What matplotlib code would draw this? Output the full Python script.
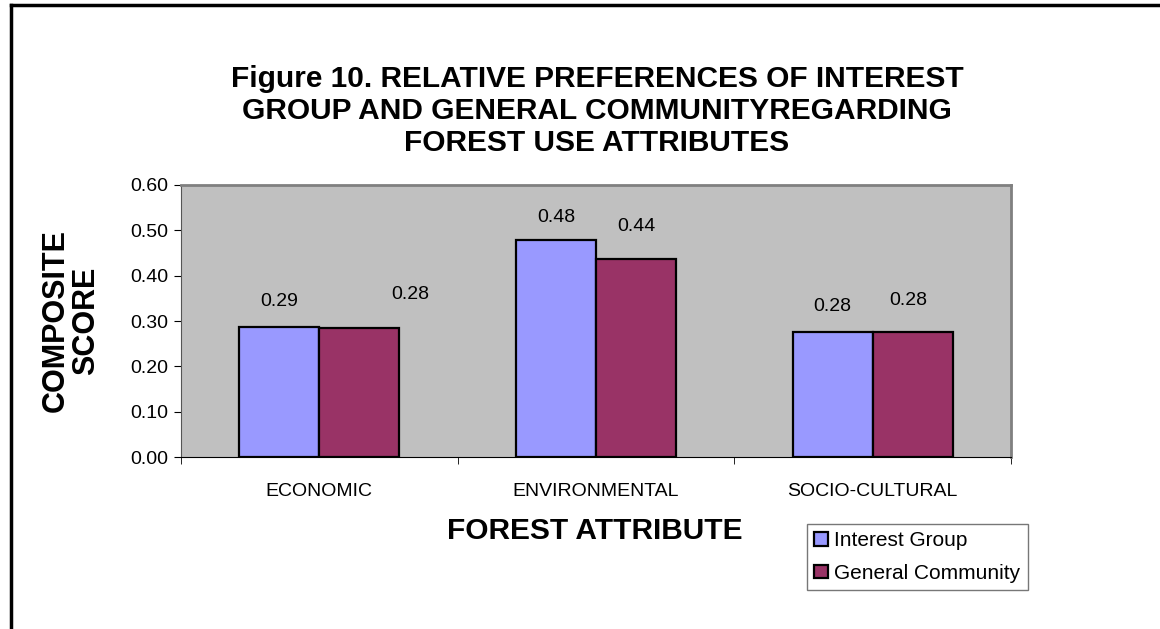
import numpy as np
import matplotlib.pyplot as plt
from matplotlib.lines import Line2D

plt.rcParams['font.family'] = ['Liberation Sans', 'DejaVu Sans']

categories = ['ECONOMIC', 'ENVIRONMENTAL', 'SOCIO-CULTURAL']
interest_group = [0.287, 0.479, 0.276]
general_community = [0.285, 0.437, 0.275]
yticks = [0.0, 0.1, 0.2, 0.3, 0.4, 0.5, 0.6]

# label offsets (points) from the top of each bar: (dx, dy)
ig_offsets = [(0, 18), (0, 16), (0, 18)]
gc_offsets = [(37, 24), (0, 23), (-3, 23)]

fig = plt.figure(figsize=(11.6, 6.29), dpi=100)
ax = fig.add_axes([181/1160, 1 - 457/629, 830/1160, 272/629])

x = np.arange(len(categories))
w = 0.289
b1 = ax.bar(x - w/2, interest_group, w, color='#9999FF', edgecolor='black', linewidth=1.6, label='Interest Group')
b2 = ax.bar(x + w/2, general_community, w, color='#993366', edgecolor='black', linewidth=1.6, label='General Community')

for rect, v, off in zip(b1, interest_group, ig_offsets):
    ax.annotate('%.2f' % v, (rect.get_x() + rect.get_width()/2, v), xytext=off,
                textcoords='offset points', ha='center', va='center', fontsize=14)
for rect, v, off in zip(b2, general_community, gc_offsets):
    ax.annotate('%.2f' % v, (rect.get_x() + rect.get_width()/2, v), xytext=off,
                textcoords='offset points', ha='center', va='center', fontsize=14)

ax.set_facecolor('#C0C0C0')
ax.set_xlim(-0.5, 2.5)
ax.set_ylim(0, 0.6)
ax.set_yticks(yticks)
ax.set_yticklabels(['%.2f' % t for t in yticks], fontsize=14)
ax.set_xticks(x)
ax.set_xticklabels(categories, fontsize=14)
ax.tick_params(axis='x', length=0, pad=19)
ax.set_xticks([-0.5, 0.5, 1.5, 2.5], minor=True)
ax.tick_params(axis='x', which='minor', length=5, direction='out', color='black')
ax.tick_params(axis='y', length=5, direction='out', color='black', pad=4)

for s in ['top', 'right']:
    ax.spines[s].set_color('#808080')
    ax.spines[s].set_linewidth(2)
ax.spines['left'].set_color('#555555')
ax.spines['bottom'].set_color('black')

fig.text(597/1160, 1 - 111/629,
         'Figure 10. RELATIVE PREFERENCES OF INTEREST\nGROUP AND GENERAL COMMUNITYREGARDING\nFOREST USE ATTRIBUTES',
         ha='center', va='center', fontsize=21.5, fontweight='bold', linespacing=1.18)
fig.text(71/1160, 1 - 321/629, 'COMPOSITE\nSCORE', rotation=90, ha='center', va='center',
         fontsize=22, fontweight='bold', linespacing=1.05)
fig.text(595/1160, 1 - 531/629, 'FOREST ATTRIBUTE', ha='center', va='center',
         fontsize=21.5, fontweight='bold')

leg = fig.legend(handles=[b1, b2], loc='upper left', bbox_to_anchor=(807/1160, 1 - 524/629),
                 fontsize=15, frameon=True, fancybox=False, edgecolor='#555555',
                 handlelength=0.65, handleheight=0.65, handletextpad=0.3,
                 borderpad=0.35, labelspacing=0.65, borderaxespad=0)
leg.get_frame().set_linewidth(1)

# outer frame (top and left edges)
fig.add_artist(Line2D([11/1160, 11/1160], [0, 1 - 5/629], color='black', linewidth=2.5,
                      transform=fig.transFigure))
fig.add_artist(Line2D([11/1160, 1], [1 - 5/629, 1 - 5/629], color='black', linewidth=2.5,
                      transform=fig.transFigure))

fig.savefig('out.png', dpi=100)
